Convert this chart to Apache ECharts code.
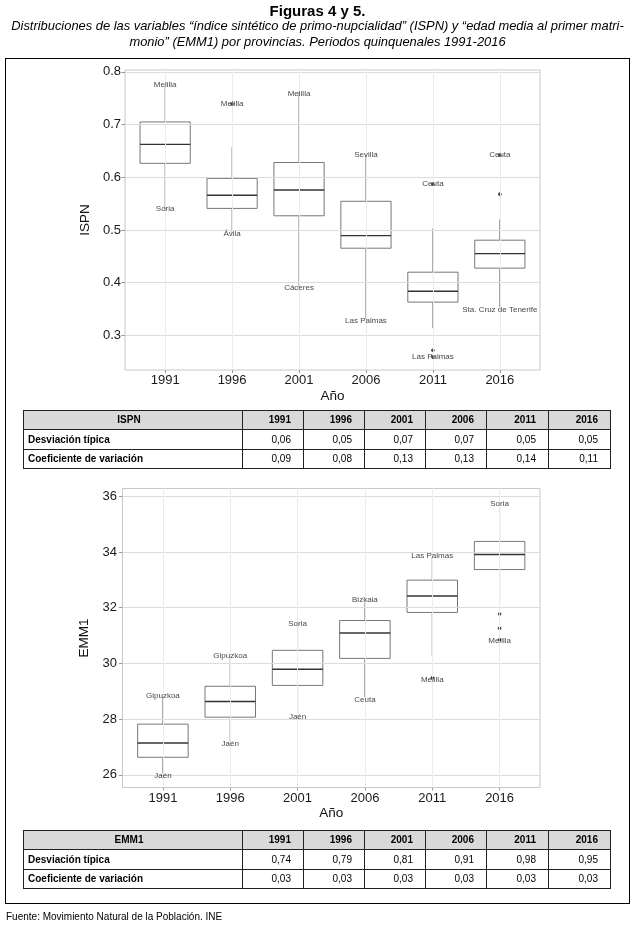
<!DOCTYPE html>
<html><head><meta charset="utf-8">
<script src="https://cdn.jsdelivr.net/npm/echarts@6/dist/echarts.min.js"></script>
<style>
html,body{margin:0;padding:0;background:#fff}
body{width:635px;height:934px;position:relative;overflow:hidden;font-family:"Liberation Sans",Arial,sans-serif;color:#000}
#chart{position:absolute;left:0;top:0;width:635px;height:934px}
.txt{position:absolute;left:0;width:635px;text-align:center;white-space:nowrap}
#t1{top:2px;font-size:15px;font-weight:bold}
#t2{top:18px;font-size:12.9px;font-style:italic;line-height:16px}
#frame{position:absolute;left:5px;top:58px;width:623px;height:844px;border:1px solid #000;pointer-events:none}
table.st{position:absolute;left:23px;border-collapse:collapse;font-size:10px;table-layout:fixed}
table.st td{border:1px solid #222;padding:0 12px 0 4px;height:18.4px;line-height:12px;text-align:right;white-space:nowrap}
table.st tr.h td{background:#d9d9d9;font-weight:bold}
table.st td.f{text-align:left;font-weight:bold}
table.st tr.h td.f{text-align:center}
#foot{position:absolute;left:6px;top:911px;font-size:10px;white-space:nowrap}
</style></head><body>
<div id="chart"></div>
<div id="frame"></div>
<div id="t1" class="txt">Figuras 4 y 5.</div>
<div id="t2" class="txt">Distribuciones de las variables “índice sintético de primo-nupcialidad” (ISPN) y “edad media al primer matri-<br>monio” (EMM1) por provincias. Periodos quinquenales 1991-2016</div>
<div id="tab1"></div>
<div id="tab2"></div>
<div id="foot">Fuente: Movimiento Natural de la Población. INE</div>
<script>
// ---------- data ----------
const years = ['1991','1996','2001','2006','2011','2016'];

// boxes: [whisker low, Q1, median, Q3, whisker high]
const ispnBoxes = [
  [0.540, 0.6265, 0.6625, 0.705, 0.774],
  [0.494, 0.541, 0.566, 0.598, 0.657],
  [0.393, 0.527, 0.576, 0.628, 0.762],
  [0.332, 0.4655, 0.4894, 0.5545, 0.642],
  [0.314, 0.3633, 0.384, 0.420, 0.503],
  [0.354, 0.4277, 0.4553, 0.4807, 0.520]
];
// outliers: [year index, value]
const ispnOutliers = [[1,0.739],[4,0.587],[4,0.272],[4,0.259],[5,0.642],[5,0.568]];
// labels: [year index, value, name]
const ispnLabels = [
  [0,0.775,'Melilla'],[0,0.540,'Soria'],
  [1,0.739,'Melilla'],[1,0.4926,'Ávila'],
  [2,0.759,'Melilla'],[2,0.391,'Cáceres'],
  [3,0.642,'Sevilla'],[3,0.328,'Las Palmas'],
  [4,0.587,'Ceuta'],[4,0.259,'Las Palmas'],
  [5,0.642,'Ceuta'],[5,0.349,'Sta. Cruz de Tenerife']
];
const ispnTicks = [0.3,0.4,0.5,0.6,0.7,0.8];

const emmBoxes = [
  [26.05, 26.63, 27.14, 27.82, 28.80],
  [27.19, 28.07, 28.63, 29.18, 30.24],
  [28.15, 29.21, 29.79, 30.47, 31.40],
  [28.78, 30.18, 31.09, 31.54, 32.18],
  [30.28, 31.83, 32.42, 32.99, 33.82],
  [32.25, 33.37, 33.91, 34.38, 35.68]
];
const emmOutliers = [[4,29.48],[5,31.77],[5,31.26],[5,30.85]];
const emmLabels = [
  [0,28.84,'Gipuzkoa'],[0,25.96,'Jaén'],
  [1,30.29,'Gipuzkoa'],[1,27.10,'Jaén'],
  [2,31.44,'Soria'],[2,28.08,'Jaén'],
  [3,32.27,'Bizkaia'],[3,28.69,'Ceuta'],
  [4,33.85,'Las Palmas'],[4,29.42,'Melilla'],
  [5,35.74,'Soria'],[5,30.83,'Melilla']
];
const emmTicks = [26,28,30,32,34,36];

const rowNames = ['Desviación típica','Coeficiente de variación'];
const ispnSD = ['0,06','0,05','0,07','0,07','0,05','0,05'];
const ispnCV = ['0,09','0,08','0,13','0,13','0,14','0,11'];
const emmSD = ['0,74','0,79','0,81','0,91','0,98','0,95'];
const emmCV = ['0,03','0,03','0,03','0,03','0,03','0,03'];

// ---------- tables ----------
const colW = [219,61,61,61,61,62,62];
function buildTable(id, top, head, rows){
  let h = '<table class="st" style="top:'+top+'px"><colgroup>' + colW.map(w=>'<col style="width:'+w+'px">').join('') + '</colgroup>';
  h += '<tr class="h"><td class="f">'+head+'</td>' + years.map(y=>'<td>'+y+'</td>').join('') + '</tr>';
  rows.forEach((r,i)=>{ h += '<tr><td class="f">'+rowNames[i]+'</td>' + r.map(v=>'<td>'+v+'</td>').join('') + '</tr>'; });
  h += '</table>';
  document.getElementById(id).innerHTML = h;
}
buildTable('tab1', 410, 'ISPN', [ispnSD, ispnCV]);
buildTable('tab2', 830, 'EMM1', [emmSD, emmCV]);

// ---------- chart ----------
const xPos = years.map((y,i)=>i+1);
function renderBox(params, api){
  const x = api.value(0);
  const lo = api.coord([x, api.value(1)]);
  const q1 = api.coord([x, api.value(2)]);
  const md = api.coord([x, api.value(3)]);
  const q3 = api.coord([x, api.value(4)]);
  const hi = api.coord([x, api.value(5)]);
  const hw = api.size([0.75, 0])[0] / 2;
  const st = {stroke:'#777', lineWidth:1};
  return {type:'group', children:[
    {type:'line', shape:{x1:hi[0], y1:hi[1], x2:q3[0], y2:q3[1]}, style:st},
    {type:'line', shape:{x1:q1[0], y1:q1[1], x2:lo[0], y2:lo[1]}, style:st},
    {type:'rect', shape:{x:q3[0]-hw, y:q3[1], width:2*hw, height:q1[1]-q3[1]}, style:{fill:'#fff', stroke:'#777', lineWidth:1}},
    {type:'line', shape:{x1:md[0]-hw, y1:md[1], x2:md[0]+hw, y2:md[1]}, style:{stroke:'#333', lineWidth:1.4}}
  ]};
}

function axesFor(gi, ticks, min, max, yname, ygap, lblMargin){
  const xa = {
    type:'value', gridIndex:gi, min:0.4, max:6.6,
    axisLine:{show:false}, splitLine:{show:false},
    axisTick:{show:true, length:3, customValues:xPos, lineStyle:{color:'#999'}},
    axisLabel:{customValues:xPos, formatter:v=>years[Math.round(v)-1] || '', color:'#1a1a1a', fontSize:13, margin:4, fontFamily:'Liberation Sans'},
    name:'Año', nameLocation:'middle', nameGap:19,
    nameTextStyle:{color:'#111', fontSize:13.5, fontFamily:'Liberation Sans'}
  };
  const ya = {
    type:'value', gridIndex:gi, min:min, max:max,
    axisLine:{show:false}, splitLine:{show:false},
    axisTick:{show:true, length:3.5, customValues:ticks, lineStyle:{color:'#999'}},
    axisLabel:{customValues:ticks, color:'#1a1a1a', fontSize:13, margin:lblMargin, fontFamily:'Liberation Sans'},
    name:yname, nameLocation:'middle', nameGap:ygap, nameRotate:90,
    nameTextStyle:{color:'#111', fontSize:13.5, fontFamily:'Liberation Sans'}
  };
  return [xa, ya];
}

function seriesFor(gi, boxes, outliers, labels, ticks){
  return [
    {type:'line', xAxisIndex:gi, yAxisIndex:gi, data:[], z:1, silent:true,
     markLine:{silent:true, symbol:'none', animation:false, label:{show:false},
       lineStyle:{color:'#dcdcdc', width:1, type:'solid'},
       data: ticks.map(v=>({yAxis:v})).concat(xPos.map(x=>({xAxis:x, lineStyle:{color:'#ececec'}})))}},
    {type:'custom', xAxisIndex:gi, yAxisIndex:gi, z:3, silent:true, animation:false,
     renderItem:renderBox,
     data: boxes.map((b,i)=>[i+1].concat(b))},
    {type:'scatter', xAxisIndex:gi, yAxisIndex:gi, z:4, silent:true, animation:false,
     symbol:'circle', symbolSize:3.6, itemStyle:{color:'#111'},
     data: outliers.map(o=>[o[0]+1, o[1]])},
    {type:'scatter', xAxisIndex:gi, yAxisIndex:gi, z:5, silent:true, animation:false,
     symbolSize:0,
     label:{show:true, position:'inside', formatter:p=>p.data.name, color:'#111', fontSize:8, fontFamily:'Liberation Sans'},
     data: labels.map(l=>({value:[l[0]+1, l[1]], name:l[2]}))}
  ];
}

const a0 = axesFor(0, ispnTicks, 0.2345, 0.8035, 'ISPN', 23, 4);
const a1 = axesFor(1, emmTicks, 25.545, 36.28, 'EMM1', 20, 5.5);

const chart = echarts.init(document.getElementById('chart'), null, {renderer:'canvas'});
chart.setOption({
  animation:false,
  grid:[
    {left:125, top:70, width:415, height:300, show:true, borderColor:'#c8c8c8', borderWidth:1, backgroundColor:'#fff'},
    {left:122.5, top:488.5, width:417.5, height:299, show:true, borderColor:'#c8c8c8', borderWidth:1, backgroundColor:'#fff'}
  ],
  xAxis:[a0[0], a1[0]],
  yAxis:[a0[1], a1[1]],
  series: seriesFor(0, ispnBoxes, ispnOutliers, ispnLabels, ispnTicks)
    .concat(seriesFor(1, emmBoxes, emmOutliers, emmLabels, emmTicks))
});
</script>
</body></html>
